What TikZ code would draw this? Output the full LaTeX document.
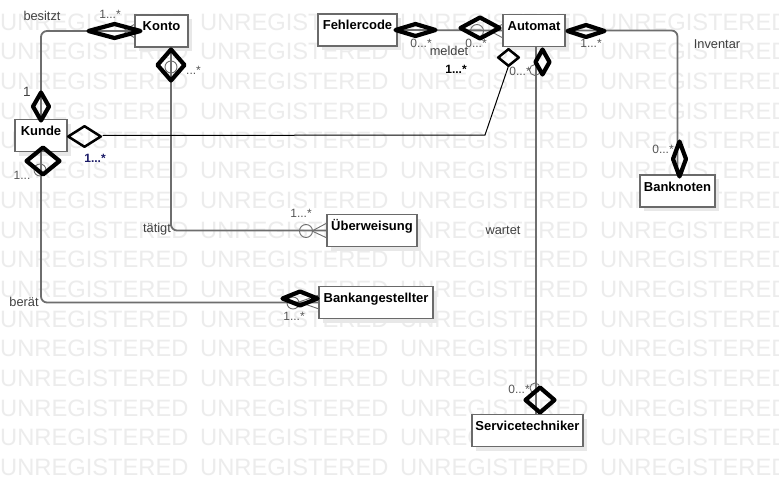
\documentclass[tikz,border=0pt]{standalone}
\usepackage{fontspec}
\setmainfont{Liberation Sans}
\usetikzlibrary{shadows}
\definecolor{wmgray}{HTML}{ECECEC}
\definecolor{linegray}{HTML}{6E6E6E}
\definecolor{boxgray}{HTML}{6A6A6A}
\definecolor{navy}{HTML}{1A1A66}
\definecolor{lblgray}{HTML}{404040}
\definecolor{multgray}{HTML}{555555}
\tikzset{
  wm/.style={font=\fontsize{23.7}{24}\selectfont, text=wmgray, anchor=west, inner sep=0pt},
  umlbox/.style={draw=boxgray, line width=1.3pt, fill=white,
    font=\bfseries\fontsize{13}{14}\selectfont, text height=12pt, text depth=12pt,
    inner ysep=4pt, inner xsep=0pt,
    drop shadow={shadow xshift=4pt, shadow yshift=-4pt, fill=black!9, opacity=1}},
  conn/.style={draw=linegray, line width=1.8pt, rounded corners=6pt},
  thinconn/.style={draw=black, line width=1pt},
  deco/.style={draw=linegray, line width=0.9pt},
  lbl/.style={font=\fontsize{12.8}{14}\selectfont, text=lblgray, inner sep=0pt, text height=9pt, text depth=0pt},
  mult/.style={font=\fontsize{12}{13}\selectfont, text=multgray, inner sep=0pt, text height=9pt, text depth=0pt},
  multb/.style={font=\bfseries\fontsize{12}{13}\selectfont, inner sep=0pt, text height=9pt, text depth=0pt},
  pics/umldia/.style n args={3}{code={
    \draw[line width=#3, line join=round] (-#1,0) -- (0,-#2) -- (#1,0) -- (0,#2) -- cycle;}}
}
\begin{document}
\begin{tikzpicture}[x=1pt,y=-1pt]
\useasboundingbox (0,0) rectangle (779,487);
\clip (0,0) rectangle (779,487);
\fill[white] (0,0) rectangle (779,487);
% watermark
\foreach \r in {0,...,15}{
  \foreach \c in {0,...,3}{
    \node[wm] (wm-\r-\c) at (\c*200, 22+\r*29.7) {UNREGISTERED};
  }
}
% boxes
\node[umlbox, minimum width=53pt]  (konto)     at (161.5,31)  {Konto};
\node[umlbox, minimum width=52pt]  (kunde)     at (41,135.5)  {Kunde};
\node[umlbox, minimum width=79pt]  (fehler)    at (357.5,30)  {Fehlercode};
\node[umlbox, minimum width=62pt]  (automat)   at (534,30.5)  {Automat};
\node[umlbox, minimum width=75pt]  (banknoten) at (677.5,191) {Banknoten};
\node[umlbox, minimum width=90pt]  (ueber)     at (372,230.5) {Überweisung};
\node[umlbox, minimum width=114pt] (bankang)   at (376,302.5) {Bankangestellter};
\node[umlbox, minimum width=111pt] (service)   at (527.5,430.5) {Servicetechniker};
% helper coordinates
\coordinate (wx) at (536,0);
\coordinate (kbend) at (485,135);
\coordinate (ktip) at (508.5,66);
% connectors
\draw[conn] (konto.west) -- (konto.west -| kunde.north) -- (kunde.north);
\draw[conn] ([xshift=9.5pt]konto.south) |- (ueber.west);
\draw[conn] (kunde.south) |- (bankang.west);
\draw[conn] (fehler.east) -- (automat.west);
\draw[conn] (automat.east) -| (banknoten.north);
\draw[conn] (automat.south -| wx) -- (service.north -| wx);
\draw[thinconn] ([xshift=35pt]kunde.east) -- (kbend) -- (ktip);
% small end decorations (circles, crow's feet)
\draw[deco] (306,231) circle (6.5pt);
\draw[deco] (312,231) -- (327,223) (312,231) -- (327,238);
\draw[deco] (293,303) circle (6pt);
\draw[deco] (299,302) -- (319,295) (299,302) -- (319,309);
\draw[deco] (171,67) circle (6pt);
\draw[deco] (40,170) circle (6pt);
\draw[deco] (477,31) circle (6.5pt);
\draw[deco] (490,31) -- (503,24) (490,31) -- (503,38);
\draw[deco] (123,31) -- (135,24) (123,31) -- (135,38);
\draw[deco] (535,70) circle (5.5pt);
\draw[deco] (535,388) circle (5pt);
% diamonds
\pic (d1)  at (114.5,31)  {umldia={26}{7}{4.2pt}};
\pic (d2)  at (41,106.5)  {umldia={8}{14}{4.2pt}};
\pic (d3)  at (171,65)    {umldia={13.5}{15.5}{4.2pt}};
\pic (d4)  at (43,161)    {umldia={16.5}{13.5}{4.2pt}};
\pic (d5)  at (415.5,30)  {umldia={20}{6}{4.2pt}};
\pic (d6)  at (480,28)    {umldia={19.5}{10.5}{4.2pt}};
\pic (d7)  at (586,31)    {umldia={18.5}{6}{4.2pt}};
\pic (d8)  at (542.5,62)  {umldia={7}{12.5}{4.2pt}};
\pic (d9)  at (679.5,159) {umldia={6.5}{17.5}{4.2pt}};
\pic (d10) at (540,400)   {umldia={14.5}{12.5}{4.2pt}};
\pic (d11) at (300,298.5) {umldia={17.5}{7}{4.2pt}};
\pic (d12) at (84.5,136.5) {umldia={16.3}{10.3}{2.5pt}};
\pic (d13) at (508.5,57.5) {umldia={10.3}{8.3}{2.5pt}};
% labels
\node[lbl]  (t-besitzt) at (42,16)    {besitzt};
\node[mult] (m1)  at (110,14)  {1...*};
\node[lbl, font=\fontsize{13.5}{14}\selectfont] (m2) at (27,92) {1};
\node[mult, anchor=west] (m3) at (186,70) {...*};
\node[multb, text=navy] (m4) at (95,158) {1...*};
\node[mult] (m5)  at (22,175)  {1...};
\node[lbl]  (t-taetigt) at (157,228) {tätigt};
\node[mult] (m6)  at (301,213) {1...*};
\node[lbl]  (t-beraet) at (24,302) {berät};
\node[mult] (m7)  at (294,316) {1...*};
\node[mult] (m8)  at (421,43)  {0...*};
\node[lbl]  (t-meldet) at (449,51) {meldet};
\node[mult] (m9)  at (476,43)  {0...*};
\node[multb] (m10) at (456,69) {1...*};
\node[mult] (m11) at (520,71)  {0...*};
\node[mult] (m12) at (591,43)  {1...*};
\node[lbl]  (t-inv) at (717,44) {Inventar};
\node[mult] (m13) at (663,149) {0...*};
\node[lbl]  (t-wartet) at (503,230) {wartet};
\node[mult] (m14) at (519,389) {0...*};
\end{tikzpicture}
\end{document}
